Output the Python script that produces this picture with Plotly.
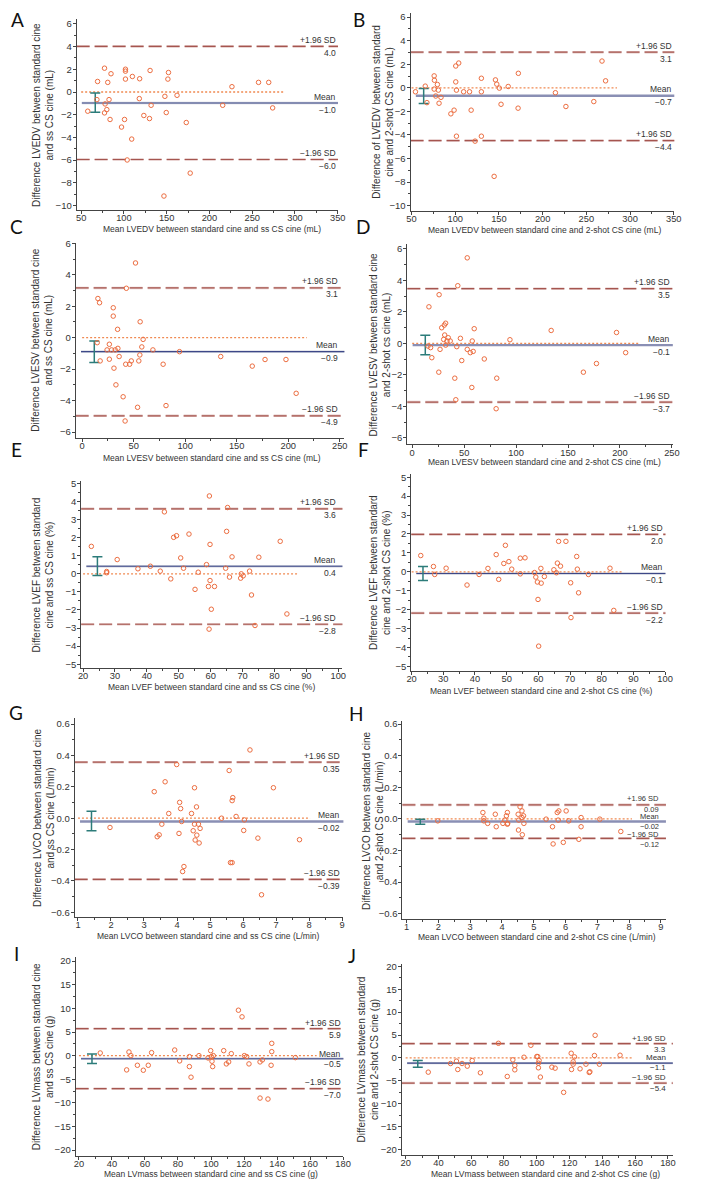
import plotly.graph_objects as go

# ---------------- DATA ----------------
a_x = [57.7, 69.2, 68.4, 77.3, 78.0, 77.3, 80.0, 81.1, 82.6, 83.8, 84.9, 97.2, 100.7, 101.8, 101.8, 101.8, 103.8, 109.1, 109.9, 118.4, 118.0, 123.3, 129.9, 130.6, 131.8, 146.8, 147.9, 149.5, 151.4, 152.1, 162.1, 172.9, 177.5, 215.5, 226.3, 257.4, 269.3, 273.9]
a_y = [-1.69, 0.93, -0.67, 2.10, -1.05, -1.84, -1.55, 0.85, -0.67, -2.42, 1.61, -3.09, -2.42, 2.01, 1.84, 1.14, -5.99, -4.15, 1.37, 1.17, -0.58, -2.07, -2.34, 1.90, -1.17, -9.17, -0.38, -1.81, 1.14, 1.72, -0.29, -2.69, -7.15, -1.17, 0.47, 0.85, 0.85, -1.40]
a_lines = [-0.97, 4.02, -5.95]          # mean, upper, lower
a_ci = [-1.78, -0.09]
a_ci_at = 66.5
a_zero = [50, 287]
a_labels = ["+1.96 SD", "4.0", "Mean", "\u22121.0", "\u22121.96 SD", "\u22126.0"]

b_x = [54.5, 65.7, 67.6, 75.9, 76.2, 75.9, 77.7, 79.6, 80.7, 81.5, 83.7, 95.0, 98.7, 100.6, 104.0, 100.6, 101.4, 101.4, 109.6, 116.4, 118.2, 122.7, 129.9, 129.9, 129.9, 144.5, 146.0, 147.5, 150.5, 152.4, 160.6, 172.2, 171.9, 214.6, 226.6, 258.5, 267.9, 272.0]
b_y = [-0.34, 0.14, -1.26, 1.01, 0.64, -0.11, -0.70, 0.28, -0.20, -1.31, -0.81, -2.21, -1.90, 1.85, 2.10, 0.50, -0.20, -4.11, -0.34, -0.34, -1.90, -4.53, 0.81, -0.34, -4.11, -7.52, 0.67, 0.31, -0.03, -1.40, 0.11, 1.23, -1.73, -0.42, -1.59, -1.17, 2.27, 0.59]
b_lines = [-0.67, 3.02, -4.48]
b_ci = [-1.34, -0.06]
b_ci_at = 63.9
b_zero = [50, 285]
b_labels = ["+1.96 SD", "3.1", "Mean", "\u22120.7", "+1.96 SD", "\u22124.4"]

c_x = [14.6, 15.3, 16.9, 17.5, 24.2, 26.4, 26.4, 28.6, 30.2, 30.2, 30.9, 32.1, 32.8, 34.4, 34.7, 35.9, 39.8, 41.7, 42.9, 42.3, 46.1, 47.7, 51.8, 53.8, 55.0, 56.0, 56.3, 57.9, 59.2, 68.7, 78.6, 81.4, 94.5, 134.5, 165.1, 177.5, 197.8, 207.7]
c_y = [-0.32, 2.49, 2.22, -1.48, -0.78, -0.42, -1.37, -0.78, 1.90, 1.37, -1.94, -0.78, -3.00, 0.53, -0.68, -1.20, -3.76, -5.30, 3.14, -1.69, -1.69, -1.48, 4.75, -4.43, -1.48, -1.10, 1.01, -0.59, -0.11, -0.78, -1.69, -4.32, -0.89, -1.20, -1.81, -1.39, -1.39, -3.54]
c_lines = [-0.89, 3.16, -4.97]
c_ci = [-1.58, -0.21]
c_ci_at = 11.8
c_zero = [0, 218]
c_labels = ["+1.96 SD", "3.1", "Mean", "\u22120.9", "\u22121.96 SD", "\u22124.9"]

d_x = [15.2, 16.1, 17.7, 18.9, 25.9, 25.6, 26.8, 28.4, 30.9, 32.2, 31.3, 30.3, 33.5, 32.2, 34.7, 36.6, 41.0, 42.0, 43.9, 42.9, 46.4, 47.7, 53.0, 53.0, 55.9, 57.8, 57.4, 58.7, 59.7, 69.4, 80.8, 81.4, 94.1, 133.8, 164.8, 177.4, 196.7, 205.5]
d_y = [-0.17, 2.32, -0.27, -0.91, 3.09, -1.83, -0.38, 0.99, 1.16, 1.28, 0.53, 0.25, 0.15, -0.11, 0.36, 0.15, -2.21, -3.58, 3.66, -0.21, 0.32, -1.09, 5.43, -0.38, -0.59, 0.15, -2.80, -0.51, 0.93, -0.99, -4.15, -2.21, 0.23, 0.82, -1.83, -1.28, 0.69, -0.59]
d_lines = [-0.11, 3.47, -3.73]
d_ci = [-0.72, 0.51]
d_ci_at = 12.6
d_zero = [0, 218]
d_labels = ["+1.96 SD", "3.5", "Mean", "\u22120.1", "\u22121.96 SD", "\u22123.7"]

e_x = [22.6, 27.4, 27.4, 30.7, 37.2, 41.1, 44.2, 45.5, 47.5, 48.4, 49.3, 50.6, 51.5, 53.2, 55.1, 56.1, 58.7, 59.3, 59.6, 59.8, 59.8, 59.5, 60.2, 61.2, 64.7, 65.0, 65.3, 65.9, 66.7, 69.4, 69.6, 70.2, 72.2, 72.8, 73.9, 75.1, 81.8, 83.9]
e_y = [1.52, 0.13, 0.06, 0.79, 0.28, 0.42, 0.15, 3.43, -0.28, 2.02, 2.11, 0.88, 0.31, 2.20, -0.86, 0.09, 0.51, -0.70, 4.31, 1.63, -0.37, -3.06, -1.96, -0.70, 0.31, 2.35, 3.67, -0.18, 0.94, -0.24, 0.00, -0.11, 0.15, -1.17, -2.86, 0.92, 1.80, -2.22]
e_lines = [0.42, 3.60, -2.79]
e_ci = [-0.09, 0.95]
e_ci_at = 24.5
e_zero = [20, 87.6]
e_labels = ["+1.96 SD", "3.6", "Mean", "0.4", "\u22121.96 SD", "\u22122.8"]

f_x = [22.9, 26.9, 27.3, 30.9, 37.5, 41.3, 44.1, 46.7, 47.5, 49.1, 49.6, 50.7, 51.6, 54.3, 54.3, 55.8, 58.8, 59.2, 59.7, 59.9, 60.1, 60.8, 60.9, 61.9, 64.9, 65.7, 66.0, 66.4, 67.0, 68.7, 70.2, 70.3, 72.1, 72.3, 72.7, 75.8, 82.6, 83.8]
f_y = [0.86, 0.28, -0.14, 0.19, -0.70, -0.14, 0.18, 0.91, -0.40, 0.44, 1.40, 0.54, 0.14, 0.72, -0.11, 0.74, -0.04, -0.28, -0.54, -1.46, -3.93, 0.18, -0.60, -0.25, 0.11, -0.05, 0.46, 1.61, 0.30, 1.61, -0.58, -2.42, 0.81, 0.14, -1.11, -0.14, 0.19, -2.04]
f_lines = [-0.09, 1.98, -2.18]
f_ci = [-0.46, 0.28]
f_ci_at = 23.6
f_zero = [20, 86.9]
f_labels = ["+1.96 SD", "2.0", "Mean", "\u22120.1", "\u22121.96 SD", "\u22122.2"]

g_x = [1.97, 3.31, 3.40, 3.46, 3.54, 3.64, 3.75, 3.99, 4.06, 4.08, 4.11, 4.14, 4.17, 4.21, 4.44, 4.49, 4.53, 4.53, 4.55, 4.59, 4.60, 4.65, 4.67, 4.70, 5.35, 5.58, 5.62, 5.67, 5.67, 5.69, 5.79, 6.04, 6.02, 6.21, 6.45, 6.56, 6.92, 7.71]
g_y = [-0.059, 0.169, -0.118, -0.106, -0.038, 0.232, 0.030, 0.342, -0.097, 0.101, 0.061, -0.021, -0.340, -0.308, 0.030, -0.080, -0.038, 0.194, -0.139, 0.072, -0.108, -0.038, -0.158, -0.065, 0.000, 0.304, -0.283, -0.283, 0.112, 0.131, 0.011, -0.011, -0.078, 0.435, -0.127, -0.488, 0.194, -0.137]
g_lines = [-0.021, 0.357, -0.39]
g_ci = [-0.080, 0.044]
g_ci_at = 1.41
g_zero = [1, 8.03]
g_labels = ["+1.96 SD", "0.35", "Mean", "\u22120.02", "\u22121.96 SD", "\u22120.39"]

h_x = [1.98, 3.40, 3.43, 3.43, 3.55, 3.79, 3.82, 4.03, 4.09, 4.14, 4.17, 4.18, 4.17, 4.51, 4.52, 4.53, 4.57, 4.63, 4.63, 4.64, 4.68, 4.69, 5.39, 5.59, 5.61, 5.74, 5.77, 5.79, 5.93, 6.02, 6.10, 6.42, 6.49, 6.49, 7.08, 7.74]
h_y = [-0.013, 0.040, 0.004, -0.013, -0.029, 0.029, -0.050, -0.029, -0.008, 0.019, 0.040, -0.029, -0.034, 0.029, -0.071, -0.008, 0.076, 0.050, 0.008, -0.101, 0.019, -0.029, -0.002, -0.050, -0.159, 0.040, -0.008, 0.050, -0.149, 0.050, -0.013, -0.130, 0.008, -0.050, -0.002, -0.080]
h_lines = [-0.017, 0.088, -0.124]
h_ci = [-0.034, -0.002]
h_ci_at = 1.43
h_zero = [1, 8.09]
h_labels = ["+1.96 SD", "0.09", "Mean", "\u22120.02", "\u22121.96 SD", "\u22120.12"]

i_x = [32.9, 48.9, 50.3, 51.5, 55.4, 59.0, 62.0, 64.0, 78.0, 81.0, 86.9, 86.9, 87.9, 92.7, 98.2, 99.8, 100.2, 100.6, 101.0, 101.4, 107.7, 109.3, 110.7, 112.3, 116.6, 118.8, 120.2, 121.6, 123.0, 129.7, 129.7, 131.1, 134.5, 136.4, 136.8, 136.8, 151.1]
i_y = [0.56, -3.02, 0.77, 0.00, -2.04, -3.09, -2.04, 0.63, 1.19, -1.12, -0.21, -2.32, -4.56, 0.00, -0.49, 1.05, -0.21, -1.19, -2.32, 0.00, 1.05, -1.75, -1.33, 0.42, 9.61, 8.21, 0.00, -0.21, -1.75, -1.33, -8.98, -0.91, -9.19, -2.04, 2.60, 0.84, -0.42]
i_lines = [-0.65, 5.70, -7.00]
i_ci = [-1.68, 0.35]
i_ci_at = 27.9
i_zero = [20, 164]
i_labels = ["+1.96 SD", "5.9", "Mean", "\u22120.5", "\u22121.96 SD", "\u22127.0"]

j_x = [33.8, 47.4, 51.0, 51.8, 54.4, 57.6, 60.6, 65.6, 76.6, 82.0, 85.4, 86.6, 86.6, 92.2, 96.4, 100.0, 100.6, 101.4, 101.0, 101.0, 102.2, 109.2, 111.2, 121.0, 121.2, 122.2, 122.2, 123.0, 116.4, 126.4, 130.0, 132.0, 132.4, 135.6, 135.2, 138.2, 150.8]
j_y = [-3.12, -1.23, -0.72, -2.54, -1.23, -1.81, -0.58, -3.26, 3.19, -4.06, -0.43, -1.67, -2.61, 0.14, 2.75, 0.29, 0.29, -0.58, -1.16, -2.17, -4.20, -2.03, -2.25, 1.01, -2.54, -0.87, -1.38, 0.22, -7.54, -2.39, -1.38, -3.19, -3.04, 4.93, 0.51, -1.38, 0.58]
j_lines = [-1.16, 3.12, -5.51]
j_ci = [-2.03, -0.58]
j_ci_at = 27.4
j_zero = [20, 158]
j_labels = ["+1.96 SD", "3.3", "Mean", "\u22121.1", "\u22121.96 SD", "\u22125.4"]

panel_letters = ["A", "B", "C", "D", "E", "F", "G", "H", "I", "J"]

y_titles = [
    "Difference LVEDV between standard cine<br>and ss CS cine (mL)",
    "Difference of LVEDV between standard<br>cine and 2-shot CS cine (mL)",
    "Difference LVESV between standard cine<br>and ss CS cine (mL)",
    "Difference LVESV between standard cine<br>and 2-shot cs cine (mL)",
    "Difference LVEF between standard<br>cine and ss CS cine (%)",
    "Difference LVEF between standard<br>cine and 2-shot CS cine (%)",
    "Difference LVCO between standard cine<br>and ss CS cine (L/min)",
    "Difference LVCO between standard cine<br>and 2-shot CS cine (L/min)",
    "Difference LVmass between standard cine<br>and ss CS cine (g)",
    "Difference LVmass between standard<br>cine and 2-shot CS cine (g)",
]
x_titles = [
    "Mean LVEDV between standard cine and ss CS cine (mL)",
    "Mean LVEDV between standard cine and 2-shot CS cine (mL)",
    "Mean LVESV between standard cine and ss CS cine (mL)",
    "Mean LVESV between standard cine and 2-shot CS cine (mL)",
    "Mean LVEF between standard cine and ss CS cine (%)",
    "Mean LVEF between standard cine and 2-shot CS cine (%)",
    "Mean LVCO between standard cine and ss CS cine (L/min)",
    "Mean LVCO between standard cine and 2-shot CS cine (L/min)",
    "Mean LVmass between standard cine and ss CS cine (g)",
    "Mean LVmass between standard cine and 2-shot CS cine (g)",
]

data = [
    (a_x, a_y, a_lines, a_ci, a_ci_at, a_zero, a_labels),
    (b_x, b_y, b_lines, b_ci, b_ci_at, b_zero, b_labels),
    (c_x, c_y, c_lines, c_ci, c_ci_at, c_zero, c_labels),
    (d_x, d_y, d_lines, d_ci, d_ci_at, d_zero, d_labels),
    (e_x, e_y, e_lines, e_ci, e_ci_at, e_zero, e_labels),
    (f_x, f_y, f_lines, f_ci, f_ci_at, f_zero, f_labels),
    (g_x, g_y, g_lines, g_ci, g_ci_at, g_zero, g_labels),
    (h_x, h_y, h_lines, h_ci, h_ci_at, h_zero, h_labels),
    (i_x, i_y, i_lines, i_ci, i_ci_at, i_zero, i_labels),
    (j_x, j_y, j_lines, j_ci, j_ci_at, j_zero, j_labels),
]

# ---------------- GEOMETRY / STYLE ----------------
# The page body has an 8px default margin (top/left): the figure is drawn
# 8px smaller so it ends exactly at the window edges, and positions are shifted.
WIN_W, WIN_H, PAGE_MARGIN = 728, 1182, 8
W, H = WIN_W - PAGE_MARGIN, WIN_H - PAGE_MARGIN
geom = [
    dict(box=(72.7, 338.5, 14, 206), xr=[44.7, 350.3], yr=[-10.4, 6.44], xt=(50, 50, 25), yt=(-10, 2, 1), xlast=350),
    dict(box=(412.3, 680.5, 7, 207), xr=[48.9, 350.6], yr=[-10.46, 6.35], xt=(50, 50, 25), yt=(-10, 2, 1), xlast=350),
    dict(box=(71.7, 345, 238.7, 435), xr=[-6.3, 254.5], yr=[-6.37, 6.05], xt=(0, 50, 25), yt=(-6, 2, 1), xlast=250),
    dict(box=(409, 679, 240, 441.7), xr=[-4.7, 250.9], yr=[-6.42, 6.32], xt=(0, 50, 25), yt=(-6, 2, 1), xlast=250),
    dict(box=(77.3, 343, 478, 666.7), xr=[19.4, 101.3], yr=[-5.23, 5.16], xt=(20, 10, 5), yt=(-5, 1, 0.5), xlast=100),
    dict(box=(413, 671.5, 471, 669.3), xr=[19.9, 100.1], yr=[-5.24, 5.19], xt=(20, 10, 5), yt=(-5, 1, 0.5), xlast=100),
    dict(box=(70.7, 344, 716.7, 916.7), xr=[0.9, 9.04], yr=[-0.63, 0.638], xt=(1, 1, 0.5), yt=(-0.6, 0.2, 0.1), xlast=9),
    dict(box=(404, 672, 720, 918.3), xr=[0.867, 9.16], yr=[-0.632, 0.617], xt=(1, 1, 0.5), yt=(-0.6, 0.2, 0.1), xlast=9),
    dict(box=(71.7, 344, 956.7, 1156.7), xr=[18.0, 180.2], yr=[-21.2, 20.9], xt=(20, 20, 10), yt=(-20, 5, 2.5), xlast=180),
    dict(box=(403.3, 679, 964, 1155.7), xr=[17.6, 183.0], yr=[-21.2, 20.5], xt=(20, 20, 10), yt=(-20, 5, 2.5), xlast=180),
]
letter_pos = [(13, 15), (360, 15), (12, 223), (364, 223), (12, 447), (364, 447), (11, 711), (357, 712), (12, 953), (353, 955)]
ytitle_x = [39, 384.5, 38, 381.5, 38.5, 382, 39, 374, 38.5, 370]
xtitle_pos = [(210, 225), (549, 226), (210, 455), (548.7, 459), (210, 685), (545.7, 689),
              (206.7, 935.5), (540.7, 937), (209, 1174.5), (549.7, 1174.5)]
thick_mean = [False, True, False, True, False, False, True, True, False, False]
# label offsets (px) above/below each reference line: upper, mean, lower
default_shift = [(6.5, -6.5), (6.5, -6.5), (6.5, -6.5)]
special_shift = {
    8: [(6.3, -4.3), (4.7, -5.3), (3.7, -6.3)],
    9: [(6.0, -6.0), (5.0, -5.7), (6.6, -6.0)],
    10: [(5.0, -6.0), (6.0, -4.6), (5.4, -5.3)],
}
label_size = {8: 7.5, 10: 8}

ORANGE = "#ec6d40"
ZERO = "#f08a52"
SDC = "#a5554f"
NAVY = "#3d4888"
GRAYBLUE = "#8a8fb4"
TEAL = "#2c7c7a"
AX = "#444444"
FONT = "Liberation Sans, Arial, sans-serif"

def px(x):
    return (x - PAGE_MARGIN) / W

def py(y):
    return 1 - (y - PAGE_MARGIN) / H

fig = go.Figure()
layout = dict(width=W, height=H, margin=dict(l=0, r=0, t=0, b=0),
              paper_bgcolor="white", plot_bgcolor="white", showlegend=False)
shapes = []
annotations = []

for k, ((xs, ys, lines, ci, ci_at, zero, labels), g) in enumerate(zip(data, geom), start=1):
    sfx = "" if k == 1 else str(k)
    xref, yref = "x" + sfx, "y" + sfx
    l, r, t, b = g["box"]
    x0, xd, xm = g["xt"]
    y0, yd, ym = g["yt"]
    layout["xaxis" + sfx] = dict(
        domain=[max(0, px(l)), min(1, px(r))], anchor=yref, range=g["xr"],
        tickmode="linear", tick0=x0, dtick=xd, ticks="outside", ticklen=3,
        tickwidth=1, tickcolor=AX, showline=True, linecolor=AX, linewidth=1,
        showgrid=False, zeroline=False, ticklabelstandoff=-4,
        tickfont=dict(family=FONT, size=9.3, color="#333"),
        minor=dict(ticks="outside", ticklen=2, tick0=x0, dtick=xm, tickcolor=AX, showgrid=False),
    )
    layout["yaxis" + sfx] = dict(
        domain=[max(0, py(b)), min(1, py(t))], anchor=xref, range=g["yr"],
        tickmode="linear", tick0=y0, dtick=yd, ticks="outside", ticklen=3,
        tickwidth=1, tickcolor=AX, showline=True, linecolor=AX, linewidth=1,
        showgrid=False, zeroline=False, ticklabelstandoff=-1,
        tickformat=".1f" if k in (7, 8) else None,
        tickfont=dict(family=FONT, size=9.5, color="#333"),
        minor=dict(ticks="outside", ticklen=2, tick0=y0, dtick=ym, tickcolor=AX, showgrid=False),
    )

    mean, upper, lower = lines
    dom = xref + " domain"
    for v in (upper, lower):
        shapes.append(dict(type="line", xref=dom, yref=yref, x0=0, x1=1, y0=v, y1=v,
                           line=dict(color="#e4c8c6", width=2.6, dash="13px,5px"), layer="below"))
        shapes.append(dict(type="line", xref=dom, yref=yref, x0=0, x1=1, y0=v, y1=v,
                           line=dict(color=SDC, width=1.2, dash="13px,5px"), layer="below"))
    if thick_mean[k - 1]:
        shapes.append(dict(type="line", xref=dom, yref=yref, x0=0.02, x1=1, y0=mean, y1=mean,
                           line=dict(color=GRAYBLUE, width=2.4), layer="below"))
    else:
        shapes.append(dict(type="line", xref=dom, yref=yref, x0=0.02, x1=1, y0=mean, y1=mean,
                           line=dict(color="#cdd0dc", width=2.4), layer="below"))
        shapes.append(dict(type="line", xref=dom, yref=yref, x0=0.02, x1=1, y0=mean, y1=mean,
                           line=dict(color=NAVY, width=1.1), layer="below"))

    fig.add_trace(go.Scatter(x=zero, y=[0, 0], mode="lines", xaxis=xref, yaxis=yref,
                             line=dict(color=ZERO, width=1.3, dash="2px,2px"), hoverinfo="skip"))
    fig.add_trace(go.Scatter(x=[ci_at], y=[(ci[0] + ci[1]) / 2], mode="markers", xaxis=xref, yaxis=yref,
                             marker=dict(size=1, color="rgba(0,0,0,0)"),
                             error_y=dict(type="data", symmetric=True, array=[(ci[1] - ci[0]) / 2],
                                          color=TEAL, thickness=1.5, width=5),
                             hoverinfo="skip"))
    fig.add_trace(go.Scatter(x=xs, y=ys, mode="markers", xaxis=xref, yaxis=yref,
                             marker=dict(symbol="circle-open", size=4.5, color=ORANGE,
                                         line=dict(width=1, color=ORANGE)),
                             hoverinfo="skip"))

    shifts = special_shift.get(k, default_shift)
    lab_size = label_size.get(k, 8.5)
    pairs = ((labels[0], labels[1]), (labels[2], labels[3]), (labels[4], labels[5]))
    for v, (above, below), (su, sd) in zip((upper, mean, lower), pairs, shifts):
        annotations.append(dict(x=g["xlast"], y=v, xref=xref, yref=yref, text=above, showarrow=False,
                                xanchor="right", yanchor="middle", yshift=su,
                                font=dict(family=FONT, size=lab_size, color="#333")))
        annotations.append(dict(x=g["xlast"], y=v, xref=xref, yref=yref, text=below, showarrow=False,
                                xanchor="right", yanchor="middle", yshift=sd,
                                font=dict(family=FONT, size=lab_size, color="#333")))

    annotations.append(dict(x=px(ytitle_x[k - 1]), y=py((t + b) / 2), xref="paper", yref="paper",
                            text=y_titles[k - 1], textangle=-90, showarrow=False,
                            xanchor="center", yanchor="middle",
                            font=dict(family=FONT, size=10, color="#333")))
    tx, ty = xtitle_pos[k - 1]
    annotations.append(dict(x=px(tx), y=py(ty), xref="paper", yref="paper", text=x_titles[k - 1],
                            showarrow=False, xanchor="center", yanchor="middle",
                            font=dict(family=FONT, size=8.5, color="#333")))
    lx, ly = letter_pos[k - 1]
    annotations.append(dict(x=px(lx), y=py(ly), xref="paper", yref="paper", text=panel_letters[k - 1],
                            showarrow=False, xanchor="center", yanchor="middle",
                            font=dict(family="Lato, Liberation Sans, sans-serif", size=19, color="#111")))

layout["shapes"] = shapes
layout["annotations"] = annotations
fig.update_layout(**layout)
fig.write_html("out.html")
